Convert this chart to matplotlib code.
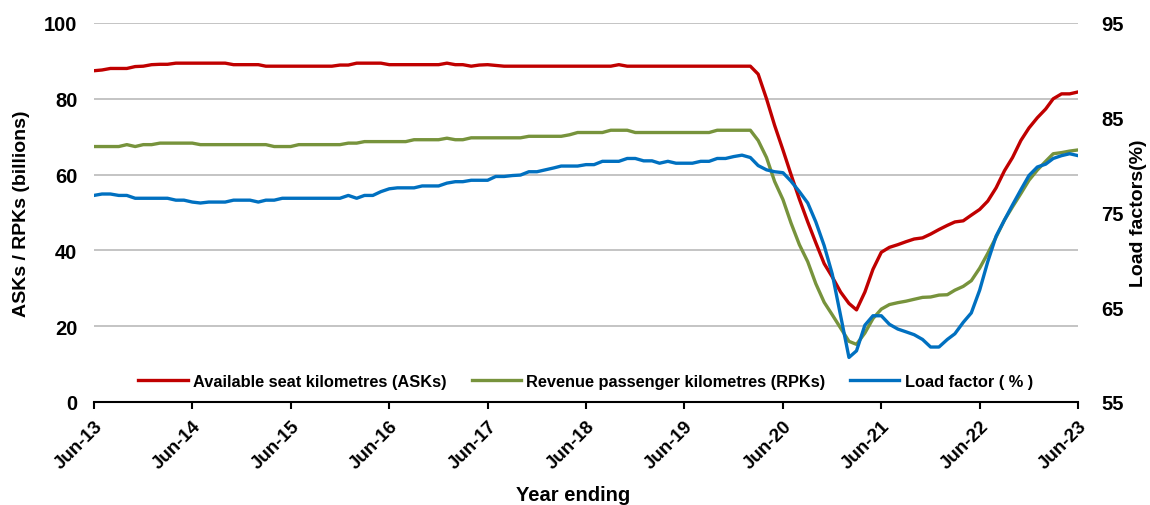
import numpy as np
import pandas as pd
import matplotlib
matplotlib.use("Agg")
import matplotlib.pyplot as plt

plt.rcParams['font.family'] = ['Liberation Sans', 'DejaVu Sans']
plt.rcParams['font.weight'] = 'bold'

months = pd.date_range('2013-06-01', '2023-06-01', freq='MS')

asks = [87.4, 87.6, 88.0, 88.0, 88.0, 88.5, 88.6, 89.0, 89.1, 89.1,
        89.4, 89.4, 89.4, 89.4, 89.4, 89.4, 89.4, 89.0, 89.0, 89.0,
        89.0, 88.6, 88.6, 88.6, 88.6, 88.6, 88.6, 88.6, 88.6, 88.6,
        88.9, 88.9, 89.4, 89.4, 89.4, 89.4, 89.0, 89.0, 89.0, 89.0,
        89.0, 89.0, 89.0, 89.4, 89.0, 89.0, 88.6, 88.9, 89.0, 88.8,
        88.6, 88.6, 88.6, 88.6, 88.6, 88.6, 88.6, 88.6, 88.6, 88.6,
        88.6, 88.6, 88.6, 88.6, 89.0, 88.6, 88.6, 88.6, 88.6, 88.6,
        88.6, 88.6, 88.6, 88.6, 88.6, 88.6, 88.6, 88.6, 88.6, 88.6,
        88.6, 86.5, 80.0, 73.0, 66.5, 60.0, 53.5, 47.5, 42.0, 36.5,
        33.0, 29.0, 26.0, 24.3, 29.0, 35.0, 39.5, 40.8, 41.5, 42.3,
        43.0, 43.3, 44.3, 45.5, 46.6, 47.5, 47.8, 49.3, 50.8, 53.0,
        56.5, 61.0, 64.5, 69.0, 72.3, 75.0, 77.3, 80.0, 81.3, 81.3,
        81.8]

rpks = [67.4, 67.4, 67.4, 67.4, 67.9, 67.4, 67.9, 67.9, 68.3, 68.3,
        68.3, 68.3, 68.3, 67.9, 67.9, 67.9, 67.9, 67.9, 67.9, 67.9,
        67.9, 67.9, 67.4, 67.4, 67.4, 67.9, 67.9, 67.9, 67.9, 67.9,
        67.9, 68.3, 68.3, 68.7, 68.7, 68.7, 68.7, 68.7, 68.7, 69.2,
        69.2, 69.2, 69.2, 69.6, 69.2, 69.2, 69.7, 69.7, 69.7, 69.7,
        69.7, 69.7, 69.7, 70.1, 70.1, 70.1, 70.1, 70.1, 70.5, 71.1,
        71.1, 71.1, 71.1, 71.7, 71.7, 71.7, 71.1, 71.1, 71.1, 71.1,
        71.1, 71.1, 71.1, 71.1, 71.1, 71.1, 71.7, 71.7, 71.7, 71.7,
        71.7, 69.0, 64.5, 58.2, 53.4, 47.2, 41.5, 37.0, 31.2, 26.3,
        23.0, 19.5, 16.0, 15.2, 18.2, 22.0, 24.5, 25.7, 26.2, 26.6,
        27.1, 27.6, 27.7, 28.2, 28.3, 29.5, 30.5, 32.0, 35.3, 39.2,
        43.5, 48.0, 51.5, 55.0, 58.5, 61.2, 63.5, 65.5, 65.8, 66.2,
        66.5]

load_factor = [76.8, 76.95, 76.95, 76.8, 76.8, 76.5, 76.5, 76.5, 76.5, 76.5,
               76.3, 76.3, 76.1, 76.0, 76.1, 76.1, 76.1, 76.3, 76.3, 76.3,
               76.1, 76.3, 76.3, 76.5, 76.5, 76.5, 76.5, 76.5, 76.5, 76.5,
               76.5, 76.8, 76.5, 76.8, 76.8, 77.2, 77.5, 77.6, 77.6, 77.6,
               77.8, 77.8, 77.8, 78.1, 78.25, 78.25, 78.4, 78.4, 78.4, 78.8,
               78.8, 78.9, 78.95, 79.3, 79.3, 79.5, 79.7, 79.9, 79.9, 79.9,
               80.05, 80.05, 80.4, 80.4, 80.4, 80.7, 80.7, 80.45, 80.45, 80.2,
               80.4, 80.2, 80.2, 80.2, 80.4, 80.4, 80.7, 80.7, 80.9, 81.05,
               80.8, 79.95, 79.5, 79.3, 79.2, 78.3, 77.2, 76.0, 74.0, 71.5,
               68.5, 64.1, 59.7, 60.4, 63.1, 64.1, 64.1, 63.2, 62.7, 62.4,
               62.1, 61.6, 60.8, 60.8, 61.6, 62.2, 63.4, 64.4, 66.8, 69.8,
               72.5, 74.2, 75.8, 77.4, 78.9, 79.8, 80.1, 80.7, 81.0, 81.2,
               81.0]

tick_labels = ['Jun-13', 'Jun-14', 'Jun-15', 'Jun-16', 'Jun-17', 'Jun-18',
               'Jun-19', 'Jun-20', 'Jun-21', 'Jun-22', 'Jun-23']

fig = plt.figure(figsize=(11.5, 5.06), dpi=100)
ax = fig.add_axes([0.0817, 0.2036, 0.8557, 0.749])
ax2 = ax.twinx()

l1, = ax.plot(months, asks, color='#C00000', lw=2.4, label='Available seat kilometres (ASKs)')
l2, = ax.plot(months, rpks, color='#77933C', lw=2.4, label='Revenue passenger kilometres (RPKs)')
l3, = ax2.plot(months, load_factor, color='#0070C0', lw=2.4, label='Load factor ( % )')

ax.set_ylim(0, 100)
ax.set_yticks([0, 20, 40, 60, 80, 100])
ax2.set_ylim(55, 95)
ax2.set_yticks([55, 65, 75, 85, 95])
ax.set_xlim(months[0], months[-1])
ax.set_xticks(months[::12])
ax.set_xticklabels(tick_labels, rotation=45, ha='right', va='top', rotation_mode='anchor')

ax.grid(axis='y', color='#BFBFBF', lw=1.3)
ax.set_axisbelow(True)
for s in ['left', 'right', 'top']:
    ax.spines[s].set_visible(False)
    ax2.spines[s].set_visible(False)
ax2.spines['bottom'].set_visible(False)
ax.spines['bottom'].set_color('black')
ax.spines['bottom'].set_linewidth(1.5)

ax.tick_params(axis='y', length=0, labelsize=14.5, pad=12)
ax2.tick_params(axis='y', length=0, labelsize=14.5, pad=17)
ax.tick_params(axis='x', length=5, width=1.5, direction='out', labelsize=13.5, pad=6)

ax.set_ylabel('ASKs / RPKs (billions)', fontsize=14, fontweight='bold')
ax2.set_ylabel('Load factors(%)', fontsize=14, fontweight='bold')
ax.set_xlabel('Year ending', fontsize=14.5, fontweight='bold')
ax.yaxis.set_label_coords(-0.065, 0.5)
ax2.yaxis.set_label_coords(1.053, 0.5)
ax.xaxis.set_label_coords(0.487, -0.219)

ax2.legend(handles=[l1, l2, l3], loc='center', bbox_to_anchor=(0.5, 0.055),
           ncol=3, frameon=False, handlelength=3.0, handletextpad=0.35,
           columnspacing=1.5, prop={'weight': 'bold', 'size': 11.8})

fig.savefig('out.png', dpi=100)
